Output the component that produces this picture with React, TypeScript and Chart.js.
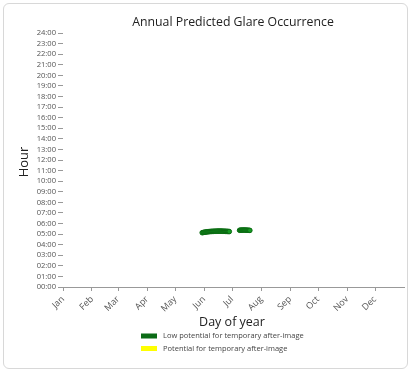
import React, { useEffect, useRef } from "react";
import { Chart, registerables } from "chart.js";

Chart.register(...registerables);

const titleText = "Annual Predicted Glare Occurrence";
const xTitle = "Day of year";
const yTitle = "Hour";
const monthLabels = ["Jan", "Feb", "Mar", "Apr", "May", "Jun", "Jul", "Aug", "Sep", "Oct", "Nov", "Dec"];
const monthStartDays = [1, 32, 60, 91, 121, 152, 182, 213, 244, 274, 305, 335];
const hourLabels = [
  "00:00", "01:00", "02:00", "03:00", "04:00", "05:00", "06:00", "07:00", "08:00",
  "09:00", "10:00", "11:00", "12:00", "13:00", "14:00", "15:00", "16:00", "17:00",
  "18:00", "19:00", "20:00", "21:00", "22:00", "23:00", "24:00",
];

// Low potential glare occurrences: day of year and hour of day
const lowDays = [
  150, 151, 152, 153, 154, 155, 156, 157, 158, 159, 160, 161, 162, 163, 164, 165,
  166, 167, 168, 169, 170, 171, 172, 173, 174, 175, 176, 177, 178, 179,
  190, 191, 192, 193, 194, 195, 196, 197, 198, 199, 200, 201,
];
const lowHours = [
  5.13, 5.15, 5.17, 5.18, 5.2, 5.21, 5.22, 5.23, 5.24, 5.25, 5.25, 5.26, 5.26, 5.27, 5.27, 5.27,
  5.28, 5.28, 5.28, 5.28, 5.28, 5.28, 5.27, 5.27, 5.27, 5.26, 5.26, 5.25, 5.25, 5.24,
  5.36, 5.37, 5.37, 5.38, 5.38, 5.38, 5.38, 5.37, 5.37, 5.36, 5.36, 5.35,
];
// Potential for after-image: none in this year
const highDays: number[] = [];
const highHours: number[] = [];

const legendLabels = ["Low potential for temporary after-image", "Potential for temporary after-image"];
const legendColors = ["#0b6b16", "#ffff00"];

export default function App() {
  const ref = useRef<HTMLCanvasElement | null>(null);

  useEffect(() => {
    document.body.style.margin = "0";
    const canvas = ref.current;
    if (!canvas) return;

    const overlay = {
      id: "overlay",
      afterDraw(chart: any) {
        const ctx = chart.ctx;
        const area = chart.chartArea;
        ctx.save();
        ctx.fillStyle = "#222";
        ctx.textAlign = "center";
        ctx.textBaseline = "middle";
        ctx.font = "12.3px 'Open Sans'";
        ctx.fillText(titleText, 233, 22);
        ctx.font = "12.5px 'Open Sans'";
        ctx.fillText(xTitle, 232, 322);
        ctx.save();
        ctx.translate(24, 162);
        ctx.rotate(-Math.PI / 2);
        ctx.font = "13px 'Open Sans'";
        ctx.fillText(yTitle, 0, 0);
        ctx.restore();
        // legend
        ctx.font = "7.5px 'Open Sans'";
        ctx.textAlign = "left";
        legendLabels.forEach((lab, i) => {
          const y = 336 + i * 12.5;
          ctx.fillStyle = legendColors[i];
          ctx.fillRect(141, y - 2.5, 16, 5);
          ctx.fillStyle = "#444";
          ctx.fillText(lab, 163, y);
        });
        ctx.restore();
      },
    };

    const chart = new Chart(canvas, {
      type: "scatter",
      data: {
        datasets: [
          {
            label: legendLabels[0],
            data: lowDays.map((d, i) => ({ x: d, y: lowHours[i] })),
            backgroundColor: "#169a22",
            borderColor: "#0a6a12",
            borderWidth: 1,
            pointRadius: 2.3,
          },
          {
            label: legendLabels[1],
            data: highDays.map((d, i) => ({ x: d, y: highHours[i] })),
            backgroundColor: "#ffff00",
            borderColor: "#ffff00",
            pointRadius: 2.3,
          },
        ],
      },
      plugins: [overlay],
      options: {
        animation: false,
        responsive: false,
        layout: { padding: { left: 0, top: 33, right: 10, bottom: 0 } },
        plugins: { legend: { display: false }, tooltip: { enabled: false }, title: { display: false } },
        scales: {
          x: {
            type: "linear",
            min: 1,
            max: 366,
            afterFit(scale: any) {
              scale.height = 87;
            },
            afterBuildTicks(scale: any) {
              scale.ticks = monthStartDays.map((v) => ({ value: v }));
            },
            ticks: {
              autoSkip: false,
              minRotation: 45,
              maxRotation: 45,
              padding: 3,
              color: "#555",
              font: { size: 9, family: "'Open Sans'" },
              callback: (v: any) => monthLabels[monthStartDays.indexOf(Number(v))] ?? "",
            },
            grid: { drawOnChartArea: false, drawTicks: true, tickLength: 4, color: "#999" },
            border: { display: true, color: "#999" },
          },
          y: {
            type: "linear",
            min: 0,
            max: 24,
            afterFit(scale: any) {
              scale.width = 63;
            },
            afterBuildTicks(scale: any) {
              scale.ticks = hourLabels.map((_, i) => ({ value: i }));
            },
            ticks: {
              autoSkip: false,
              padding: 2,
              color: "#555",
              font: { size: 7.6, family: "'Open Sans'" },
              callback: (v: any) => hourLabels[Number(v)] ?? "",
            },
            grid: { drawOnChartArea: false, drawTicks: true, tickLength: 5, color: "#999" },
            border: { display: false },
          },
        },
      },
    } as any);
    return () => chart.destroy();
  }, []);

  return (
    <div style={{ position: "relative", width: 414, height: 374, background: "#fff" }}>
      <div
        style={{
          position: "absolute",
          left: 3,
          top: 3,
          width: 403,
          height: 364,
          border: "1px solid #d8d8d8",
          borderRadius: 6,
        }}
      />
      <canvas ref={ref} width={414} height={374} style={{ position: "absolute", left: 0, top: 0 }} />
    </div>
  );
}
